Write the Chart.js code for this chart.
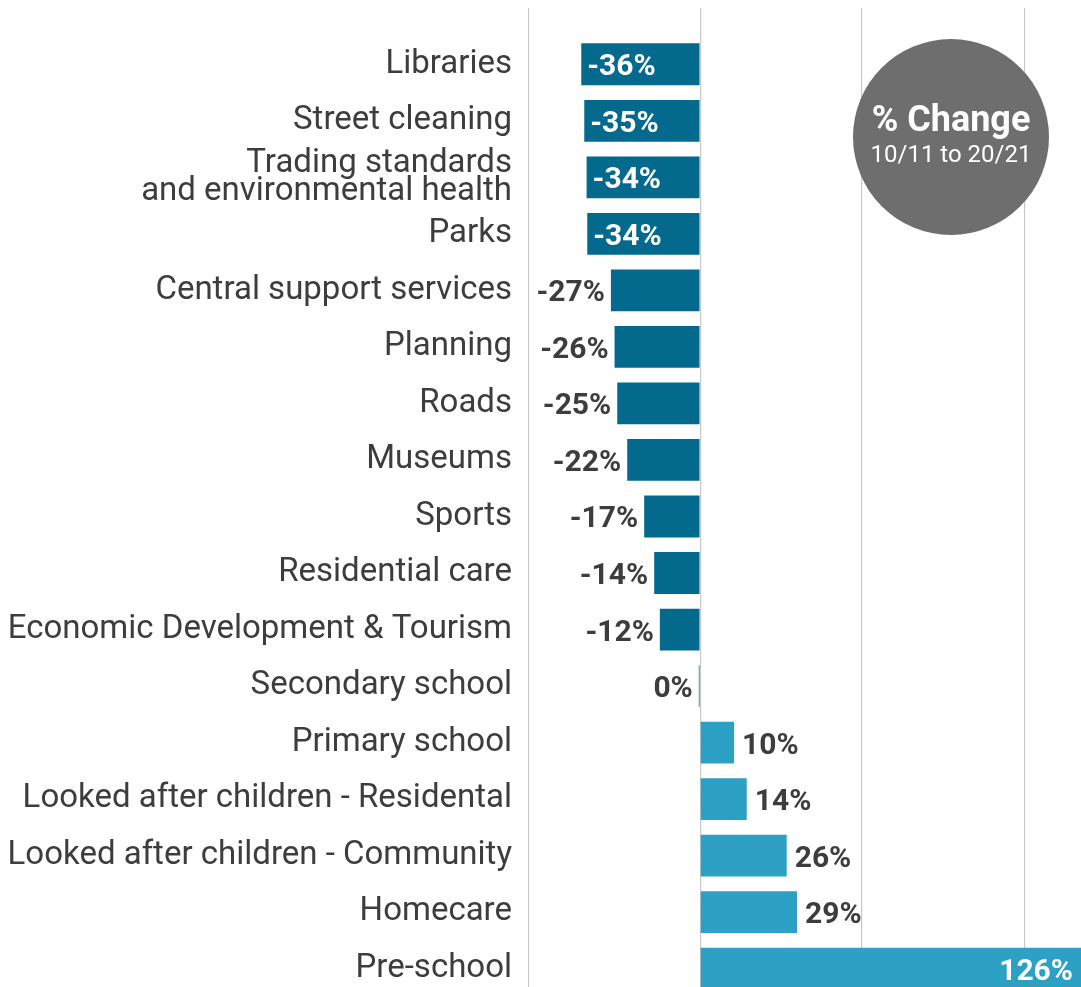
<!DOCTYPE html>
<html>
<head>
<meta charset="utf-8">
<script src="https://cdn.jsdelivr.net/npm/chart.js@4/dist/chart.umd.min.js"></script>
<style>
  html, body { margin: 0; padding: 0; background: #fff; overflow: hidden; }
  canvas { display: block; }
</style>
</head>
<body>
<canvas id="chart" width="1081" height="1028"></canvas>
<script>
// ---- data ----
const services = [
    'Libraries',
    'Street cleaning',
    ['Trading standards', 'and environmental health'],
    'Parks',
    'Central support services',
    'Planning',
    'Roads',
    'Museums',
    'Sports',
    'Residential care',
    'Economic Development & Tourism',
    'Secondary school',
    'Primary school',
    'Looked after children - Residental',
    'Looked after children - Community',
    'Homecare',
    'Pre-school'
];
const changes = [-35.7, -34.8, -34.1, -33.9, -26.8, -25.7, -24.9, -21.9, -16.8, -13.8, -12.1, -0.4, 10.2, 14.0, 26.0, 29.1, 126.0];
const gridValues = [0, 48.6, 97.4];
const badgeTitle = '% Change';
const badgeSub = '10/11 to 20/21';

const NEG = '#036a8d';
const POS = '#2ca1c4';
const TEXT = '#3d3d3d';
const FONT = 'Roboto, "Liberation Sans", sans-serif';

// labels at end of bars
const valueLabels = {
    id: 'valueLabels',
    afterDatasetsDraw(chart) {
        const { ctx, chartArea } = chart;
        const meta = chart.getDatasetMeta(0);
        ctx.save();
        ctx.font = 'bold 30px ' + FONT;
        ctx.textBaseline = 'alphabetic';
        meta.data.forEach((bar, i) => {
            const v = changes[i];
            const text = Math.round(v) + '%';
            const end = Math.min(Math.max(bar.x, chartArea.left), chartArea.right);
            const y = bar.y + 11;
            const inside = Math.abs(v) >= 30;
            if (v <= 0) {
                if (inside) {
                    ctx.fillStyle = '#fff';
                    ctx.textAlign = 'left';
                    ctx.fillText(text, end + 6, y);
                } else {
                    ctx.fillStyle = TEXT;
                    ctx.textAlign = 'right';
                    ctx.fillText(text, end - 6, y);
                }
            } else {
                if (inside) {
                    ctx.fillStyle = '#fff';
                    ctx.textAlign = 'right';
                    ctx.fillText(text, end - 8, y);
                } else {
                    ctx.fillStyle = TEXT;
                    ctx.textAlign = 'left';
                    ctx.fillText(text, end + 8, y);
                }
            }
        });
        ctx.restore();
    }
};

// grey "% Change" badge
const badge = {
    id: 'badge',
    afterDraw(chart) {
        const ctx = chart.ctx;
        const cx = 951, cy = 137, r = 98;
        ctx.save();
        ctx.beginPath();
        ctx.arc(cx, cy, r, 0, Math.PI * 2);
        ctx.fillStyle = '#6e6e6e';
        ctx.fill();
        ctx.fillStyle = '#fff';
        ctx.textAlign = 'center';
        ctx.textBaseline = 'alphabetic';
        ctx.font = 'bold 36px ' + FONT;
        ctx.fillText(badgeTitle, cx, 131);
        ctx.font = '24px ' + FONT;
        ctx.fillText(badgeSub, cx, 162);
        ctx.restore();
    }
};

const ctx = document.getElementById('chart').getContext('2d');
new Chart(ctx, {
    type: 'bar',
    data: {
        labels: services,
        datasets: [{
            data: changes,
            backgroundColor: changes.map(v => v < 0 ? NEG : POS),
            borderWidth: 0,
            barPercentage: 0.74,
            categoryPercentage: 1
        }]
    },
    options: {
        indexAxis: 'y',
        responsive: false,
        devicePixelRatio: 1,
        animation: false,
        layout: { padding: { top: 8, right: 0, bottom: 0, left: 0 } },
        plugins: {
            legend: { display: false },
            tooltip: { enabled: false }
        },
        scales: {
            x: {
                position: 'top',
                min: -51.4,
                max: 114.4,
                afterBuildTicks: function(scale) {
                    scale.ticks = [scale.min].concat(gridValues).map(v => ({ value: v }));
                },
                ticks: { display: false },
                grid: {
                    color: '#c8c8c8',
                    lineWidth: 1.2,
                    drawTicks: true,
                    tickLength: 28
                },
                border: { display: false }
            },
            y: {
                afterFit: function(scale) {
                    scale.width = 529;
                },
                grid: { display: false, drawTicks: false },
                border: { display: false },
                ticks: {
                    autoSkip: false,
                    color: TEXT,
                    padding: 17,
                    font: { family: FONT, size: 33, lineHeight: 0.85 }
                }
            }
        }
    },
    plugins: [valueLabels, badge]
});
</script>
</body>
</html>
